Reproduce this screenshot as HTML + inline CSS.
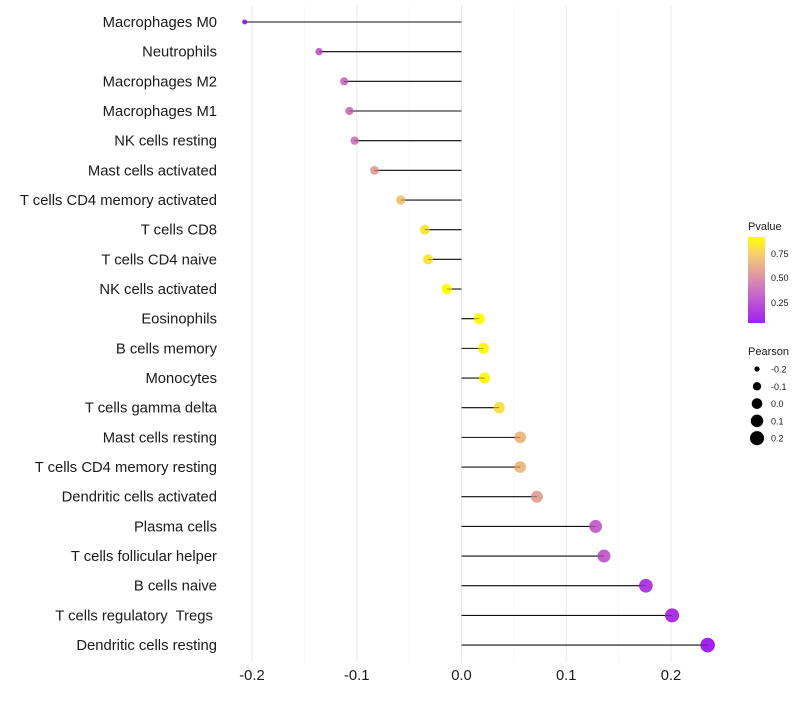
<!DOCTYPE html>
<html><head><meta charset="utf-8"><style>
body{margin:0;background:#fff}
svg text{font-family:"Liberation Sans",sans-serif;fill:#1a1a1a;white-space:pre}
</style></head><body>
<svg id="chart" width="800" height="700" xmlns="http://www.w3.org/2000/svg" xml:space="preserve">
<defs><linearGradient id="pg" x1="0" y1="1" x2="0" y2="0">
<stop offset="0" stop-color="#A020F0"/><stop offset="0.35" stop-color="#C96BC8"/><stop offset="0.6" stop-color="#E3A29A"/><stop offset="0.8" stop-color="#F6CF6E"/><stop offset="1" stop-color="#FFFF00"/></linearGradient></defs>
<g id="grid"></g>
<g id="marks"></g>
<g id="ylab"></g>
<g id="xlab"></g>
<g>
<text x="748" y="230" font-size="11">Pvalue</text>
<rect x="748" y="237" width="17" height="86" fill="url(#pg)"/>
<text x="771" y="257" font-size="9">0.75</text>
<text x="771" y="281" font-size="9">0.50</text>
<text x="771" y="306" font-size="9">0.25</text>
</g>
<g id="sizeleg">
<text x="748" y="355" font-size="11">Pearson</text>
</g>
</svg>
<script>
const categories=["Macrophages M0","Neutrophils","Macrophages M2","Macrophages M1","NK cells resting","Mast cells activated","T cells CD4 memory activated","T cells CD8","T cells CD4 naive","NK cells activated","Eosinophils","B cells memory","Monocytes","T cells gamma delta","Mast cells resting","T cells CD4 memory resting","Dendritic cells activated","Plasma cells","T cells follicular helper","B cells naive","T cells regulatory  Tregs ","Dendritic cells resting"];
const pearson=[-0.207,-0.136,-0.112,-0.107,-0.102,-0.083,-0.058,-0.035,-0.032,-0.014,0.017,0.021,0.022,0.036,0.056,0.056,0.072,0.128,0.136,0.176,0.201,0.235];
const pvalue=[0.05,0.32,0.38,0.4,0.42,0.56,0.7,0.82,0.82,0.92,0.91,0.88,0.88,0.8,0.66,0.66,0.57,0.33,0.31,0.16,0.12,0.06];
const xTicks=[-0.2,-0.1,0.0,0.1,0.2];
const xTickLabels=["-0.2","-0.1","0.0","0.1","0.2"];
const sizeLegend=[-0.2,-0.1,0.0,0.1,0.2];
const sizeLegendLabels=["-0.2","-0.1","0.0","0.1","0.2"];

const NS="http://www.w3.org/2000/svg";
const x=v=>461.5+v*1047.5;
const y=i=>22+i*29.67;
const PMIN=0.046,PMAX=0.913;
const stops=[[0,[160,32,240]],[0.35,[201,107,200]],[0.6,[227,162,154]],[0.8,[246,207,110]],[1,[255,255,0]]];
function col(p){let t=Math.max(0,Math.min(1,(p-PMIN)/(PMAX-PMIN)));for(let k=1;k<stops.length;k++){if(t<=stops[k][0]){const a=stops[k-1],b=stops[k],f=(t-a[0])/(b[0]-a[0]);return "rgb("+a[1].map((c,j)=>Math.round(c+(b[1][j]-c)*f)).join(",")+")";}}return "rgb(255,255,0)";}
const vmin=-0.207;
const rad=v=>Math.sqrt(6.25+Math.max(0,(v-vmin))*106);
function mk(t,a,p){const e=document.createElementNS(NS,t);for(const k in a)e.setAttribute(k,a[k]);p.appendChild(e);return e;}
const grid=document.getElementById('grid');
[-0.15,-0.05,0.05,0.15].forEach(v=>{const l=mk('line',{x1:x(v),x2:x(v),y1:5,y2:662,stroke:'#f2f2f2','stroke-width':0.6},grid);});
xTicks.forEach(v=>{const l=mk('line',{x1:x(v),x2:x(v),y1:5,y2:662,stroke:'#ebebeb','stroke-width':1.1},grid);});
const marks=document.getElementById('marks'),ylab=document.getElementById('ylab'),xlab=document.getElementById('xlab');
categories.forEach((c,i)=>{
 const l=mk('line',{x1:x(0),x2:x(pearson[i]),y1:y(i),y2:y(i),stroke:'#111','stroke-width':1.1},marks);
 
 
 const d=mk('circle',{cx:x(pearson[i]),cy:y(i),r:rad(pearson[i]),fill:col(pvalue[i])},marks);
 
 
 const s=mk('line',{x1:x(0),x2:x(pearson[i]),y1:y(i),y2:y(i),stroke:'#111','stroke-width':0.8,'stroke-opacity':0.5},marks);
 
 
 const t=mk('text',{x:217,y:y(i)+5,'text-anchor':'end','font-size':14.8},ylab);t.textContent=c;
 
 
});
xTicks.forEach((v,i)=>{const t=mk('text',{x:x(v),y:680,'text-anchor':'middle','font-size':14.8},xlab);t.textContent=xTickLabels[i];
 
 });
const sl=document.getElementById('sizeleg');
sizeLegend.forEach((v,i)=>{const cy=369+i*17.3;const c=mk('circle',{cx:757,cy:cy,r:rad(v),fill:'#000'},sl);
 
 
 const t=mk('text',{x:771,y:cy+3.5,'font-size':9},sl);t.textContent=sizeLegendLabels[i];
 
 });
</script>
</body></html>
